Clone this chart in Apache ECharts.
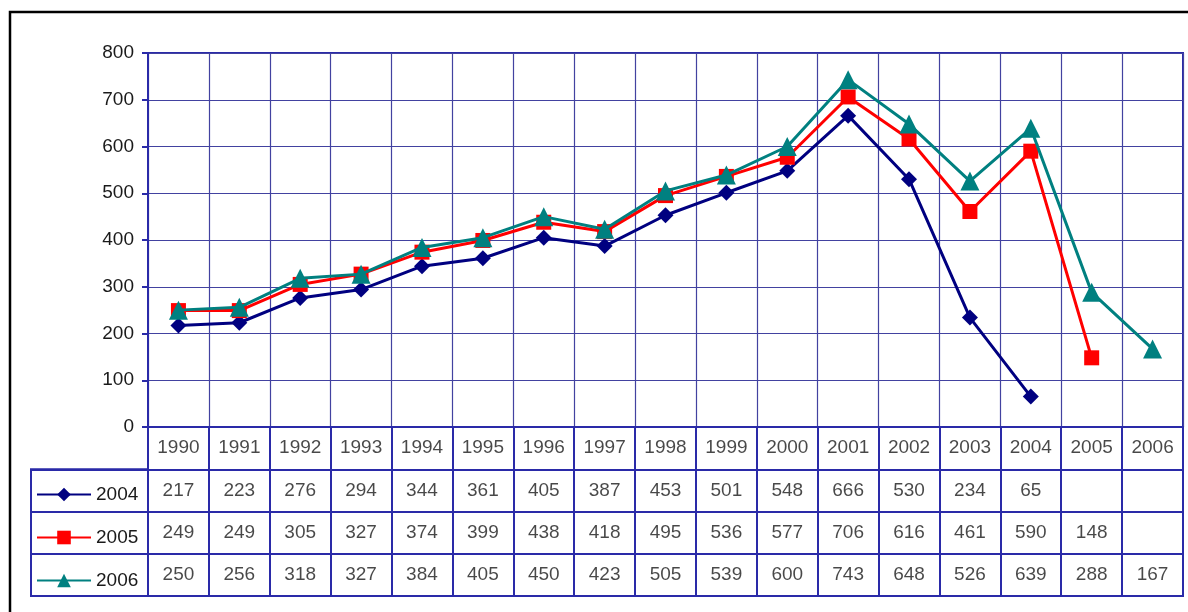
<!DOCTYPE html>
<html>
<head>
<meta charset="utf-8">
<script src="https://cdn.jsdelivr.net/npm/echarts@6/dist/echarts.min.js"></script>
<style>
  html, body { margin:0; padding:0; background:#fff; }
  #chart { width:1188px; height:612px; }
</style>
</head>
<body>
<div id="chart"></div>
<script>
// categories / series
const years = ['1990','1991','1992','1993','1994','1995','1996','1997','1998','1999','2000','2001','2002','2003','2004','2005','2006']
const seriesNames = ['2004','2005','2006']
const s2004 = [217,223,276,294,344,361,405,387,453,501,548,666,530,234,65,null,null]
const s2005 = [249,249,305,327,374,399,438,418,495,536,577,706,616,461,590,148,null]
const s2006 = [250,256,318,327,384,405,450,423,505,539,600,743,648,526,639,288,167]
const yTicks = [0,100,200,300,400,500,600,700,800]

const colors  = ['#000080','#ff0000','#008080']
const symbols = ['diamond','rect','triangle']
const symSizes = [16, 15, 19]
const allData = [s2004, s2005, s2006]

const gridCol = '#4242a0'
const borderCol = '#2a2aa8'
const textCol = '#1a1a1a'
const font = 'Arial, "Liberation Sans", sans-serif'

// cells of the data table: [column, row, text]
const tableRows = ['hdr'].concat(seriesNames)
const cells = []
years.forEach((y, i) => cells.push([i, 0, y]))
allData.forEach((arr, r) => arr.forEach((v, i) => {
  if (v != null) cells.push([i, r + 1, String(v)])
}))

const chart = echarts.init(document.getElementById('chart'))

chart.setOption({
  animation: false,
  textStyle: { fontFamily: font },
  graphic: [{
    type: 'rect',
    shape: { x: 10, y: 12, width: 1200, height: 620 },
    style: { fill: 'none', stroke: '#000', lineWidth: 2.5 },
    silent: true
  }],
  legend: {
    orient: 'vertical',
    left: 31,
    top: 480,
    itemWidth: 54,
    itemHeight: 17,
    itemGap: 24,
    data: seriesNames,
    textStyle: { fontSize: 19, color: textCol, fontFamily: font }
  },
  grid: [
    { left: 148, top: 53, width: 1035, height: 374, show: true, borderColor: borderCol, borderWidth: 2 },
    { left: 148, top: 427, width: 1035, height: 169, show: true, borderColor: borderCol, borderWidth: 2 },
    { left: 31, top: 469.25, width: 117, height: 126.75, show: true, borderColor: borderCol, borderWidth: 2 }
  ],
  xAxis: [
    {
      gridIndex: 0, type: 'category', data: years, boundaryGap: true,
      axisLine: { lineStyle: { color: borderCol, width: 2 } },
      axisTick: { show: false }, axisLabel: { show: false },
      splitLine: { show: true, lineStyle: { color: gridCol, width: 1.2 } }
    },
    {
      gridIndex: 1, type: 'category', data: years, boundaryGap: true,
      axisLine: { show: false }, axisTick: { show: false }, axisLabel: { show: false },
      splitLine: { show: true, lineStyle: { color: borderCol, width: 2 } }
    },
    {
      gridIndex: 2, type: 'value', show: false
    }
  ],
  yAxis: [
    {
      gridIndex: 0, type: 'value', min: yTicks[0], max: yTicks[yTicks.length - 1], interval: 100,
      axisLine: { show: true, lineStyle: { color: borderCol, width: 2 } },
      axisTick: { show: true, length: 6, lineStyle: { color: borderCol, width: 2 } },
      axisLabel: { fontSize: 19, color: textCol, margin: 14, fontFamily: font },
      splitLine: { show: true, lineStyle: { color: gridCol, width: 1.2 } }
    },
    {
      gridIndex: 1, type: 'category', data: tableRows, inverse: true, boundaryGap: true,
      axisLine: { show: false }, axisTick: { show: false }, axisLabel: { show: false },
      splitLine: { show: true, lineStyle: { color: borderCol, width: 2 } }
    },
    {
      gridIndex: 2, type: 'category', data: seriesNames, inverse: true, boundaryGap: true,
      axisLine: { show: false }, axisTick: { show: false }, axisLabel: { show: false },
      splitLine: { show: true, lineStyle: { color: borderCol, width: 2 } }
    }
  ],
  series: seriesNames.map((name, k) => ({
    name: name,
    type: 'line',
    xAxisIndex: 0, yAxisIndex: 0,
    data: allData[k],
    color: colors[k],
    symbol: symbols[k],
    symbolSize: symSizes[k],
    lineStyle: { width: 3, color: colors[k] },
    itemStyle: { color: colors[k] },
    z: 3 + k
  })).concat([{
    type: 'scatter',
    xAxisIndex: 1, yAxisIndex: 1,
    symbolSize: 0,
    data: cells,
    label: {
      show: true, position: 'inside',
      formatter: p => p.data[2],
      fontSize: 19, color: textCol, fontFamily: font
    },
    silent: true
  }])
})
</script>
</body>
</html>
